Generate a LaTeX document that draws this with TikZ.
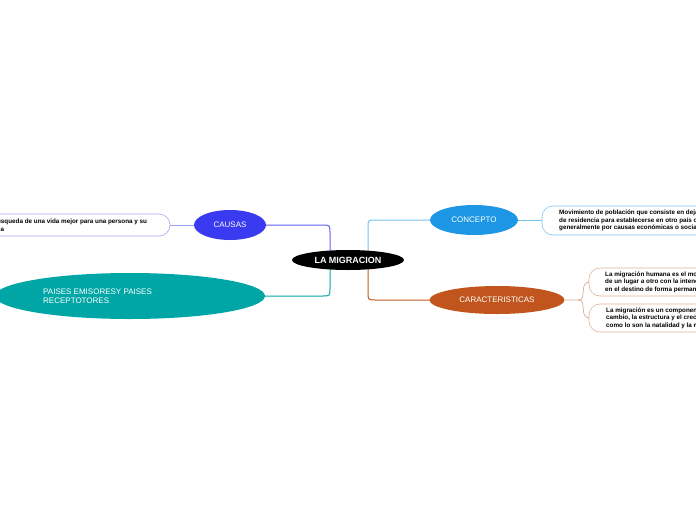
\documentclass[tikz,border=0pt]{standalone}
\usepackage{fontspec}
\setmainfont{Liberation Sans}
\usetikzlibrary{shapes.geometric}
\definecolor{cblue}{HTML}{3A3AF0}
\definecolor{cteal}{HTML}{00A6A6}
\definecolor{ccon}{HTML}{1E96E6}
\definecolor{ccar}{HTML}{C0561E}
\begin{document}
\begin{tikzpicture}[x=1pt,y=-1pt,
  topic/.style={ellipse,inner sep=0,text=white,font=\fontsize{8}{9}\selectfont},
  leaf/.style={rounded corners=11pt,fill=white,line width=0.6pt},
  lt/.style={font=\bfseries\fontsize{6.3}{7.5}\selectfont,align=left,anchor=west,inner sep=0},
  conn/.style={line width=1pt}]
\useasboundingbox (0,0) rectangle (696,520);
\clip (0,0) rectangle (696,520);
% connectors
\draw[conn,cblue!80] (330,256) -- (330,233) .. controls (330,225) .. (322,225) -- (266,225);
\draw[conn,cteal] (330,264) -- (330,288) .. controls (330,296) .. (322,296) -- (265,296);
\draw[conn,ccon!60] (368,256) -- (368,228) .. controls (368,220) .. (376,220) -- (430,220);
\draw[conn,ccar] (368,264) -- (368,292) .. controls (368,300) .. (376,300) -- (430,300);
\draw[cblue!50,line width=0.7pt] (194,225) -- (170,225);
\draw[ccon!60,line width=0.7pt] (518,220) -- (542,220);
\draw[ccar!50,line width=0.7pt] (565,300) -- (578,300) .. controls (588,300) and (578,282) .. (590,282);
\draw[ccar!50,line width=0.7pt] (578,300) .. controls (588,300) and (578,318) .. (590,318);
% nodes
\node[topic,fill=black,minimum width=112,minimum height=20,font=\bfseries\fontsize{9}{10}\selectfont] (m) at (348,260) {LA MIGRACION};
\node[topic,fill=cblue,minimum width=72,minimum height=30] (c) at (230,225) {CAUSAS};
\node[topic,fill=cteal,minimum width=270,minimum height=46] (p) at (130,296) {};
\node[lt,font=\fontsize{8}{9}\selectfont,text=white] (pt) at (43,296) {PAISES EMISORESY PAISES\\RECEPTOTORES};
\node[topic,fill=ccon,minimum width=88,minimum height=30] (co) at (474,220) {CONCEPTO};
\node[topic,fill=ccar,minimum width=135,minimum height=28] (ca) at (497,300) {CARACTERISTICAS};
% leaves
\draw[leaf,draw=cblue!45] (-30,214) rectangle (170,236);
\node[lt] (l1) at (-16,225) {La búsqueda de una vida mejor para una persona y su\\familia};
\draw[leaf,draw=ccon!55] (542,206) rectangle (760,235);
\node[lt] (l2) at (559,220.5) {Movimiento de población que consiste en dejar el lugar\\de residencia para establecerse en otro país o región,\\generalmente por causas económicas o sociales.};
\draw[leaf,draw=ccar!45] (589,268) rectangle (760,296);
\node[lt] (l3) at (605,282) {La migración humana es el movimiento de personas\\de un lugar a otro con la intención de asentarse\\en el destino de forma permanente o temporal.};
\draw[leaf,draw=ccar!45] (589,304) rectangle (760,332);
\node[lt] (l4) at (606,318) {La migración es un componente del\\cambio, la estructura y el crecimiento de la población,\\como lo son la natalidad y la mortalidad.};
\end{tikzpicture}
\end{document}
